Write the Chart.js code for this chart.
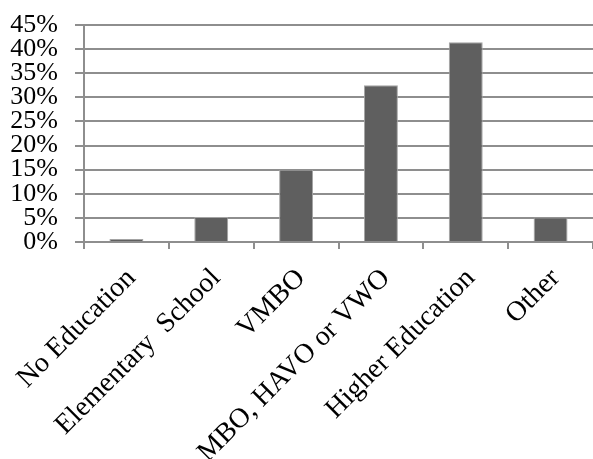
<!DOCTYPE html>
<html>
<head>
<meta charset="utf-8">
<script src="https://cdn.jsdelivr.net/npm/chart.js@4/dist/chart.umd.min.js"></script>
<style>
  html, body { margin: 0; padding: 0; background: #ffffff; }
  #wrap { width: 593px; height: 459px; position: relative; }
</style>
</head>
<body>
<div id="wrap"><canvas id="c" width="593" height="459"></canvas></div>
<script>
// Education level categories and share of respondents (%)
const categories = ["No Education", "Elementary  School", "VMBO", "MBO, HAVO or VWO", "Higher Education", "Other"];
const shares = [0.6, 5.2, 15.0, 32.5, 41.4, 5.1];
const yTicks = [0, 5, 10, 15, 20, 25, 30, 35, 40, 45];

const FONT = "'Liberation Serif', 'Times New Roman', serif";
const GRID = '#8e8e8e';

new Chart(document.getElementById('c'), {
  type: 'bar',
  data: {
    labels: categories,
    datasets: [{
      data: shares,
      backgroundColor: '#5f5f5f',
      borderColor: '#a4a4a4',
      borderWidth: 1,
      barPercentage: 0.4,
      categoryPercentage: 1.0
    }]
  },
  options: {
    responsive: false,
    animation: false,
    layout: { padding: { top: 25, right: 0, left: 0, bottom: 0 } },
    plugins: { legend: { display: false }, tooltip: { enabled: false } },
    scales: {
      x: {
        grid: { display: true, drawOnChartArea: false, drawTicks: true, tickLength: 7, color: GRID, lineWidth: 2 },
        border: { display: true, color: GRID, width: 2 },
        ticks: {
          autoSkip: false, minRotation: 45, maxRotation: 45, padding: 13, labelOffset: 5,
          color: '#000000', font: { family: FONT, size: 28 }
        },
        afterFit: (s) => { s.height = 217; s.paddingLeft = 0; s.paddingRight = 0; }
      },
      y: {
        min: 0, max: 45,
        afterBuildTicks: (s) => { s.ticks = yTicks.map(v => ({ value: v })); },
        grid: { color: GRID, lineWidth: 2, drawTicks: true, tickLength: 9 },
        border: { display: true, color: GRID, width: 2 },
        ticks: {
          autoSkip: false, padding: 17, color: '#000000', font: { family: FONT, size: 26 },
          callback: (v) => v + '%'
        },
        afterFit: (s) => { s.width = 84; s.paddingTop = 0; s.paddingBottom = 0; }
      }
    }
  }
});
</script>
</body>
</html>
